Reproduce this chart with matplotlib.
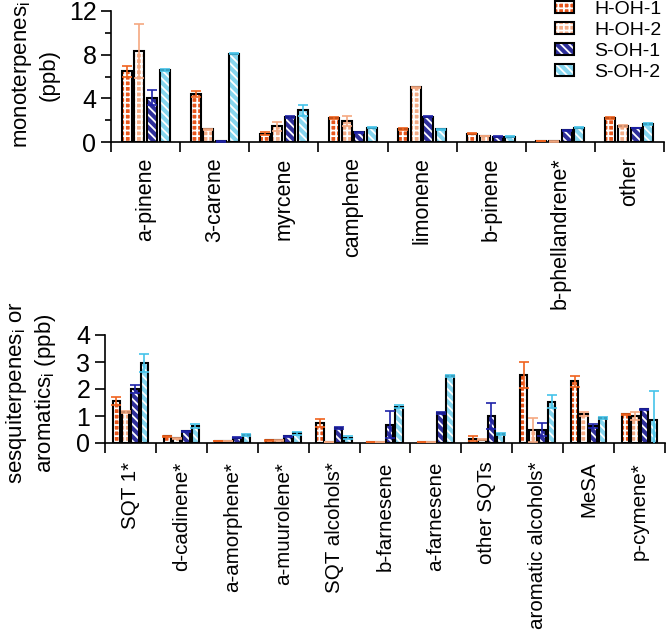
import matplotlib
matplotlib.use("Agg")
import matplotlib.pyplot as plt
import numpy as np
from matplotlib.patches import Patch
from matplotlib.legend_handler import HandlerTuple

plt.rcParams['font.family'] = ['Liberation Sans', 'DejaVu Sans']
plt.rcParams['mathtext.fontset'] = 'custom'
plt.rcParams['mathtext.rm'] = 'Liberation Sans'
plt.rcParams['hatch.linewidth'] = 1.3

series = ["H-OH-1", "H-OH-2", "S-OH-1", "S-OH-2"]
fill_colors = ["#E8561C", "#F4AC86", "#2E2F9A", "#86D6EF"]
err_colors = ["#F0621E", "#F5A880", "#1E22A8", "#45C3EA"]
hatches = ["+++", "+++", "\\\\\\\\", "\\\\\\\\"]

mono_cats = ["a-pinene", "3-carene", "myrcene", "camphene", "limonene",
             "b-pinene", "b-phellandrene*", "other"]
mono_vals = [
    [6.5, 4.4, 0.77, 2.2, 1.17, 0.77, 0.05, 2.2],
    [8.35, 1.15, 1.45, 1.95, 5.0, 0.55, 0.05, 1.47],
    [4.05, 0.05, 2.3, 0.9, 2.3, 0.5, 1.07, 1.28],
    [6.6, 8.1, 2.9, 1.3, 1.17, 0.5, 1.32, 1.62],
]
mono_err = [
    [0.5, 0.3, 0.13, 0.08, 0.08, 0.08, 0.0, 0.1],
    [2.5, 0.05, 0.4, 0.45, 0.05, 0.04, 0.03, 0.1],
    [0.7, 0.02, 0.06, 0.03, 0.05, 0.03, 0.04, 0.04],
    [0.08, 0.06, 0.5, 0.05, 0.05, 0.03, 0.05, 0.08],
]

sqt_cats = ["SQT 1*", "d-cadinene*", "a-amorphene*", "a-muurolene*",
            "SQT alcohols*", "b-farnesene", "a-farnesene", "other SQTs",
            "aromatic alcohols*", "MeSA", "p-cymene*"]
sqt_vals = [
    [1.56, 0.25, 0.08, 0.1, 0.74, 0.03, 0.03, 0.16, 2.53, 2.28, 1.06],
    [1.15, 0.18, 0.08, 0.1, 0.03, 0.03, 0.03, 0.12, 0.47, 1.08, 1.0],
    [2.0, 0.43, 0.2, 0.25, 0.57, 0.68, 1.1, 1.0, 0.5, 0.62, 1.25],
    [2.95, 0.64, 0.3, 0.36, 0.2, 1.35, 2.48, 0.34, 1.53, 0.93, 0.84],
]
sqt_err = [
    [0.14, 0.02, 0.01, 0.01, 0.14, 0.0, 0.0, 0.1, 0.48, 0.2, 0.03],
    [0.04, 0.02, 0.01, 0.01, 0.0, 0.0, 0.0, 0.02, 0.45, 0.08, 0.16],
    [0.15, 0.02, 0.02, 0.02, 0.04, 0.5, 0.03, 0.48, 0.24, 0.07, 0.02],
    [0.33, 0.07, 0.03, 0.05, 0.05, 0.04, 0.04, 0.04, 0.23, 0.04, 1.1],
]

W, H = 667, 633
fig = plt.figure(figsize=(W / 100, H / 100), dpi=100)

def px_axes(x0, x1, ytop, ybot):
    return fig.add_axes([x0 / W, 1 - ybot / H, (x1 - x0) / W, (ybot - ytop) / H])

ax1 = px_axes(111, 664, 11, 142)
ax2 = px_axes(105, 665, 335, 443)

bw = 0.145
step = 0.183
offs = (np.arange(4) - 1.5) * step

def draw(ax, cats, vals, errs, pad, fs):
    x = np.arange(len(cats))
    for i in range(4):
        xs = x + offs[i]
        ax.bar(xs, vals[i], bw, color=fill_colors[i], edgecolor="white",
               hatch=hatches[i], linewidth=0, zorder=2)
        ax.bar(xs, vals[i], bw, fill=False, edgecolor="black",
               linewidth=1.5, zorder=3)
        ax.errorbar(xs, vals[i], yerr=errs[i], fmt="none", ecolor=err_colors[i],
                    elinewidth=1.2, capsize=3.5, capthick=1.2, zorder=4)
    ax.set_xlim(-0.5, len(cats) - 0.5)
    ax.set_xticks(np.arange(len(cats) + 1) - 0.5)
    ax.set_xticklabels([])
    ax.set_xticks(x, minor=True)
    ax.set_xticklabels(cats, minor=True, rotation=90, fontsize=fs)
    ax.tick_params(axis="x", which="minor", length=0, pad=pad)
    ax.tick_params(axis="x", which="major", length=7, width=1.2, direction="out")
    for s in ["top", "right"]:
        ax.spines[s].set_visible(False)
    for s in ["left", "bottom"]:
        ax.spines[s].set_linewidth(1.2)
    ax.tick_params(axis="y", which="major", length=7, width=1.2, labelsize=18)
    ax.tick_params(axis="y", which="minor", length=4, width=1.2)

draw(ax1, mono_cats, mono_vals, mono_err, 11, 15.5)
ax1.set_ylim(0, 12)
ax1.set_yticks([0, 4, 8, 12])
ax1.set_yticks([2, 6, 10], minor=True)

draw(ax2, sqt_cats, sqt_vals, sqt_err, 13.5, 14.8)
ax2.set_ylim(0, 4)
ax2.set_yticks([0, 1, 2, 3, 4])

fig.text(35 / W, 1 - 75 / H, "monoterpenes$_\\mathregular{i}$\n(ppb)", rotation=90,
         ha="center", va="center", multialignment="center", fontsize=16,
         linespacing=1.3)
fig.text(31 / W, 1 - 393 / H, "sesquiterpenes$_\\mathregular{i}$ or\naromatics$_\\mathregular{i}$ (ppb)",
         rotation=90, ha="center", va="center", multialignment="center",
         fontsize=16, linespacing=1.2)

handles = []
for i in range(4):
    p1 = Patch(facecolor=fill_colors[i], edgecolor="white", hatch=hatches[i], linewidth=0)
    p2 = Patch(fill=False, edgecolor="black", linewidth=1.5)
    handles.append((p1, p2))
fig.legend(handles, series, loc="upper left", bbox_to_anchor=(555 / W, 1 - 1 / H),
           frameon=False, fontsize=14, handlelength=1.0, handleheight=0.6,
           handletextpad=1.0, labelspacing=0.2, borderpad=0.0, borderaxespad=0.0,
           handler_map={tuple: HandlerTuple(ndivide=1)})

fig.savefig("out.png", dpi=100)
